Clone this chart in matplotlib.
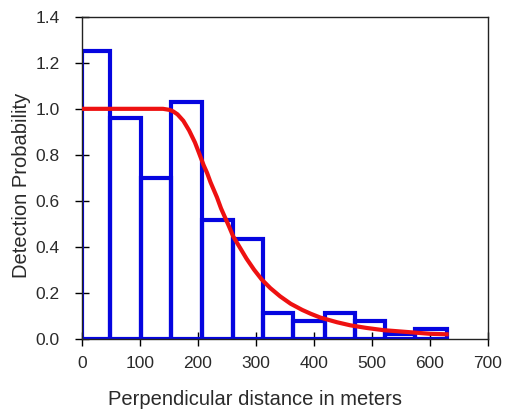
import numpy as np
import matplotlib
matplotlib.use("Agg")
import matplotlib.pyplot as plt

plt.rcParams['font.family'] = ['Liberation Sans', 'DejaVu Sans']

# histogram of scaled detections per distance class
bin_edges = [0, 49, 102, 154, 207, 261, 313, 364, 419, 471, 523, 575, 629]
bin_heights = [1.25, 0.96, 0.70, 1.03, 0.515, 0.435, 0.11, 0.075, 0.11, 0.075, 0.02, 0.04]

# fitted detection function
curve_x = [0, 50, 100, 140, 145, 152, 158, 165, 175, 185, 195, 201, 210, 216,
           222, 233, 240, 247, 254, 261, 270, 284, 297, 310, 325, 342, 360,
           380, 395, 411, 440, 463, 490, 520, 566, 600, 629]
curve_y = [1.0, 1.0, 1.0, 1.0, 0.998, 0.995, 0.988, 0.976, 0.948, 0.906, 0.854,
           0.815, 0.755, 0.721, 0.68, 0.615, 0.567, 0.527, 0.487, 0.445, 0.407,
           0.348, 0.30, 0.258, 0.22, 0.184, 0.152, 0.125, 0.108, 0.092, 0.0714,
           0.058, 0.047, 0.037, 0.028, 0.0212, 0.019]

xticks = [0, 100, 200, 300, 400, 500, 600, 700]
yticks = [0.0, 0.2, 0.4, 0.6, 0.8, 1.0, 1.2, 1.4]

fig = plt.figure(figsize=(5.05, 4.12), dpi=100)
ax = fig.add_axes([0.162, 0.178, 0.804, 0.781])

edges = np.array(bin_edges)
ax.bar(edges[:-1], bin_heights, width=np.diff(edges), align='edge',
       fill=False, edgecolor='#0505e0', linewidth=3, zorder=2)
ax.plot(curve_x, curve_y, color='#ee1111', linewidth=3, zorder=3,
        solid_joinstyle='round')

ax.set_xlim(0, 700)
ax.set_ylim(0, 1.4)
ax.set_xticks(xticks)
ax.set_yticks(yticks)
ax.set_yticklabels([f"{v:.1f}" for v in yticks])
ax.tick_params(direction='inout', length=9.5, width=1, labelsize=12.5,
               labelcolor='#2a2a2a')
ax.tick_params(axis='x', pad=8)
ax.tick_params(axis='y', pad=11)
for s in ax.spines.values():
    s.set_linewidth(1)
    s.set_color('#222222')

ax.set_xlabel('Perpendicular distance in meters', fontsize=14.5, color='#2a2a2a')
ax.set_ylabel('Detection Probability', fontsize=14.5, color='#2a2a2a')
ax.xaxis.set_label_coords(0.4265, -0.16)
ax.yaxis.set_label_coords(-0.125, 0.477)

fig.savefig('out.png', dpi=100)
